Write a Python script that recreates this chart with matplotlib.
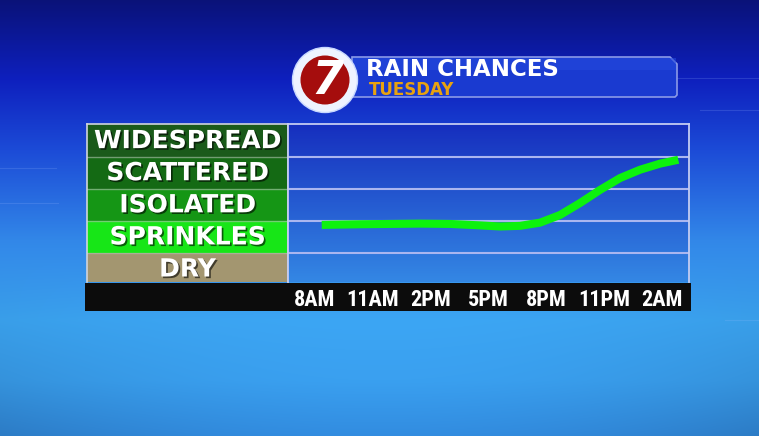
import numpy as np
import matplotlib
matplotlib.use("Agg")
import matplotlib.pyplot as plt
import matplotlib.patheffects as pe
from matplotlib.patches import Circle, Polygon, Rectangle
from matplotlib.transforms import blended_transform_factory

# chart values
levels = ["DRY", "SPRINKLES", "ISOLATED", "SCATTERED", "WIDESPREAD"]
level_colors = ["#a39670", "#17e617", "#159615", "#146a14", "#1a5a1a"]

tick_hours = [0, 3, 6, 9, 12, 15, 18]
tick_labels = ["8AM", "11AM", "2PM", "5PM", "8PM", "11PM", "2AM"]

# hours after 8AM and rain-chance level (1 = sprinkles ... 4 = widespread)
line_hours = [0.37, 2.35, 3.91, 5.47, 7.02, 8.58, 9.62, 10.65, 11.69,
              12.73, 13.76, 14.8, 15.84, 16.88, 17.92, 18.86]
line_levels = [1.89, 1.91, 1.92, 1.93, 1.92, 1.875, 1.84, 1.86, 1.96,
               2.20, 2.57, 2.98, 3.35, 3.61, 3.80, 3.92]

title = "RAIN CHANCES"
subtitle = "TUESDAY"

W, H = 759, 436
fig = plt.figure(figsize=(W / 100, H / 100), dpi=100)

# ---- background (pixel coordinates) ----
bg = fig.add_axes([0, 0, 1, 1], zorder=0)
yy, xx = np.mgrid[0:H, 0:W]
stop_y = [0, 80, 150, 240, 320, 380, 436]
stop_c = np.array([[10, 18, 120], [14, 32, 190], [28, 75, 215],
                   [50, 135, 232], [60, 166, 244], [58, 160, 240],
                   [50, 140, 224]]) / 255
img = np.stack([np.interp(yy, stop_y, stop_c[:, k]) for k in range(3)], -1)
edge = np.abs(xx / W - 0.5) * 2
fade = np.clip((yy - 250) / 186, 0, 1)
img = img * (1 - 0.12 * (edge ** 2 * fade))[..., None]
bg.imshow(np.clip(img, 0, 1), extent=[0, W, H, 0], aspect="auto", zorder=0)
bg.set_xlim(0, W)
bg.set_ylim(H, 0)
bg.axis("off")

# faint decorative lines
for x0, x1, y0 in [(0, 56, 168), (0, 58, 203), (677, 759, 78),
                   (700, 759, 110), (725, 759, 320)]:
    bg.plot([x0, x1], [y0, y0], color="#9fc0ff", lw=0.8, alpha=0.18, zorder=1)

# header banner
banner = Polygon([(352, 57), (670, 57), (677, 64), (677, 95), (675, 97),
                  (352, 97)], closed=True, facecolor="#1a3ad0",
                 edgecolor="#8a9ae8", lw=1.2, zorder=2)
bg.add_patch(banner)
bg.add_patch(Rectangle((353, 58), 323, 12, facecolor="#2448dc",
                       edgecolor="none", alpha=0.6, zorder=2.1))
bg.add_patch(Circle((325, 80), 32.5, facecolor="#eef3ff", edgecolor="#c8d8ff",
                    lw=1, zorder=3))
bg.add_patch(Circle((325, 80), 24.5, facecolor="#a50d0d", edgecolor="none",
                    zorder=4))
bg.text(327, 81, "7", color="white", fontsize=33, fontweight="bold",
        fontstyle="italic", ha="center", va="center", zorder=5)
bg.text(366, 76, title, color="white", fontsize=16.5, fontweight="bold",
        va="baseline", ha="left", zorder=5)
bg.text(369, 95, subtitle, color="#e8a210", fontsize=12, fontweight="bold",
        va="baseline", ha="left", zorder=5)

# black time bar
bg.add_patch(Rectangle((85, 283), 606, 28, facecolor="#0c0c0c",
                       edgecolor="none", zorder=2))

# ---- axes geometry ----
y_lo, y_hi = 0.12, 5.05
ax_bottom = 1 - 281.7 / H
ax_height = (281.7 - 123.5) / H

# label panel
pan = fig.add_axes([86.7 / W, ax_bottom, (288.3 - 86.7) / W, ax_height],
                   zorder=2)
pan.set_facecolor(level_colors[-1])
pan.barh([i + 0.5 for i in range(len(levels))], [1] * len(levels),
         height=1, left=0, color=level_colors, edgecolor="none")
for i in range(1, len(levels)):
    pan.axhline(i, color="#b0c0b0", lw=1.0, alpha=0.6)
trans = blended_transform_factory(pan.transAxes, pan.transData)
for i, name in enumerate(levels):
    pan.text(0.5, i + 0.5, name, transform=trans, ha="center", va="center",
             color="white", fontsize=18, fontweight="bold",
             path_effects=[pe.withSimplePatchShadow(offset=(1.2, -1.2),
                                                    shadow_rgbFace="black",
                                                    alpha=0.6)])
pan.set_xlim(0, 1)
pan.set_ylim(y_lo, y_hi)
pan.set_xticks([])
pan.set_yticks([])
for s in pan.spines.values():
    s.set_color("#d0d4dc")
    s.set_linewidth(1.2)
pan.spines["bottom"].set_visible(False)

# main plot
ax = fig.add_axes([288.3 / W, ax_bottom, (689.3 - 288.3) / W, ax_height],
                  zorder=2)
x_lo, x_hi = -1.364, 19.43
grad = np.linspace(0, 1, 200)[:, None, None]
c_top = np.array([22, 46, 190]) / 255
c_bot = np.array([52, 135, 228]) / 255
ax.imshow(c_top * (1 - grad) + c_bot * grad, extent=[x_lo, x_hi, y_lo, y_hi],
          aspect="auto", origin="upper", zorder=0)
for lv in range(1, len(levels)):
    ax.axhline(lv, color="#aab6f0", lw=1.5, zorder=1)
ax.plot(line_hours, line_levels, color="#0df20d", lw=5.8,
        solid_capstyle="butt", solid_joinstyle="round", zorder=3)
ax.set_xlim(x_lo, x_hi)
ax.set_ylim(y_lo, y_hi)
ax.set_yticks([])
ax.set_xticks(tick_hours, tick_labels)
ax.tick_params(axis="x", length=0, pad=5, colors="white")
for lab in ax.get_xticklabels():
    lab.set_fontfamily(["DejaVu Sans Condensed", "Liberation Sans Narrow",
                        "Roboto Condensed", "DejaVu Sans"])
    lab.set_fontstretch("condensed")
    lab.set_fontweight("heavy")
    lab.set_fontsize(16)
for s in ax.spines.values():
    s.set_color("#c4ccf2")
    s.set_linewidth(1.3)
ax.spines["bottom"].set_visible(False)

fig.savefig("out.png", dpi=100)
